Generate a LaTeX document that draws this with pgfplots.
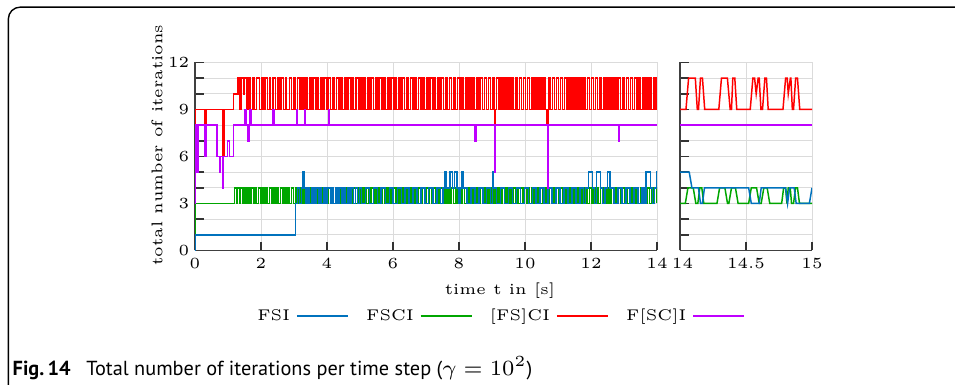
\documentclass[border=0pt]{standalone}
\usepackage{fontspec}
\usepackage{pgfplots}
\pgfplotsset{compat=1.18}
\newfontfamily\capfont{PT Sans}
\definecolor{cB}{RGB}{0,114,189}
\definecolor{cG}{RGB}{0,166,0}
\definecolor{cR}{RGB}{255,0,0}
\definecolor{cP}{RGB}{191,0,255}
\pgfplotsset{
  myaxis/.style={
    scale only axis, height=60.65pt,
    ymin=0, ymax=12,
    axis on top=false,
    axis lines=left,
    axis line style={-, black!75, line width=0.5pt},
    ytick={0,1,...,12},
    yticklabels={0,,,3,,,6,,,9,,,12},
    grid=major,
    major grid style={gray!28, line width=0.3pt},
    tick align=inside,
    major tick style={black!80, line width=0.5pt},
    major tick length=2.8pt,
    font=\fontsize{5}{6}\selectfont,
    every tick label/.append style={font=\fontsize{5}{6}\selectfont},
    xticklabel style={yshift=-0.6pt},
  },
  pl/.style={line width=0.48pt},
}
\begin{document}
\fontsize{5}{6}\selectfont
\begin{tikzpicture}
\useasboundingbox (0,0) rectangle (308.08pt,-123.88pt);
\draw[line width=0.45pt, rounded corners=3.8pt] (2.7pt,-2.3pt) rectangle (330pt,-140pt);
% left axis
\begin{axis}[myaxis, at={(62.91pt,-80.80pt)}, anchor=south west,
  width=149.04pt, xmin=0, xmax=14, xtick={0,2,...,14},
  xticklabels={0,2,4,6,8,10,12,14\hspace{1.6pt}},
  legend plot pos=right,
  legend style={at={(axis description cs:0.656,-0.349)}, anchor=center, draw=none, fill=none,
    legend columns=4, font=\fontsize{5}{6}\selectfont,
    /tikz/every even column/.append style={column sep=3.6pt},
    inner sep=0pt},
  legend image code/.code={\draw[#1] (0pt,0pt) -- (16.5pt,0pt);},
]
% FSCI (green)
\addplot[cG, pl, const plot, forget plot] coordinates {
(0,0)(0.01,3)(1.20,4)(1.25,3)(1.29,4)(1.35,3)(1.38,4)(1.45,3)(1.50,4)(1.54,3)(1.60,4)(1.66,3)(1.70,4)(1.77,3)(1.82,4)(1.86,3)(1.92,4)(1.99,3)(2.03,4)(2.09,3)(2.15,4)(2.19,3)(2.26,4)(2.32,3)(2.37,4)(2.43,3)(2.48,4)(2.53,3)(2.59,4)(2.66,3)(2.70,4)(2.76,3)(2.82,4)(2.87,3)(2.92,4)(2.99,3)
(3.04,4)(3.09,3)(3.15,4)(3.21,3)(3.26,4)(3.31,3)(3.37,4)(3.44,3)(3.48,4)(3.54,3)(3.60,4)(3.64,3)(3.71,4)(3.77,3)(3.81,4)(3.87,3)(3.93,4)(3.98,3)(4.03,4)(4.10,3)(4.14,4)(4.20,3)(4.26,4)(4.30,3)(4.36,4)(4.43,3)(4.47,4)(4.53,3)(4.59,4)(4.64,3)(4.69,4)(4.76,3)(4.80,4)(4.86,3)(4.92,4)(4.97,3)
(5.02,4)(5.09,3)(5.13,4)(5.19,3)(5.25,4)(5.30,3)(5.35,4)(5.42,3)(5.46,4)(5.52,3)(5.58,4)(5.63,3)(5.68,4)(5.75,3)(5.79,4)(5.85,3)(5.91,4)(5.96,3)(6.01,4)(6.08,3)(6.12,4)(6.18,3)(6.24,4)(6.29,3)(6.34,4)(6.41,3)(6.45,4)(6.51,3)(6.57,4)(6.62,3)(6.67,4)(6.74,3)(6.78,4)(6.84,3)(6.90,4)(6.95,3)
(7.00,4)(7.07,3)(7.11,4)(7.17,3)(7.23,4)(7.28,3)(7.33,4)(7.40,3)(7.44,4)(7.50,3)(7.56,4)(7.61,3)(7.66,4)(7.73,3)(7.77,4)(7.83,3)(7.89,4)(7.94,3)(7.99,4)(8.06,3)(8.10,4)(8.16,3)(8.22,4)(8.27,3)(8.32,4)(8.39,3)(8.43,4)(8.49,3)(8.55,4)(8.60,3)(8.65,4)(8.72,3)(8.76,4)(8.82,3)(8.88,4)(8.93,3)(8.98,4)
(9.05,3)(9.09,4)(9.15,3)(9.21,4)(9.26,3)(9.31,4)(9.38,3)(9.42,4)(9.48,3)(9.54,4)(9.59,3)(9.64,4)(9.71,3)(9.75,4)(9.81,3)(9.87,4)(9.92,3)(9.97,4)(10.04,3)(10.08,4)(10.14,3)(10.20,4)(10.25,3)(10.30,4)(10.37,3)(10.41,4)(10.47,3)(10.53,4)(10.58,3)(10.63,4)(10.70,3)(10.74,4)(10.80,3)(10.86,4)(10.91,3)(10.96,4)
(11.03,3)(11.07,4)(11.13,3)(11.19,4)(11.24,3)(11.29,4)(11.36,3)(11.40,4)(11.46,3)(11.52,4)(11.57,3)(11.62,4)(11.69,3)(11.73,4)(11.79,3)(11.85,4)(11.90,3)(11.95,4)(12.02,3)(12.06,4)(12.12,3)(12.18,4)(12.23,3)(12.28,4)(12.35,3)(12.39,4)(12.45,3)(12.51,4)(12.56,3)(12.61,4)(12.68,3)(12.72,4)(12.78,3)(12.84,4)(12.89,3)(12.94,4)
(13.01,3)(13.05,4)(13.11,3)(13.17,4)(13.22,3)(13.27,4)(13.34,3)(13.38,4)(13.44,3)(13.50,4)(13.55,3)(13.60,4)(13.67,3)(13.71,4)(13.77,3)(13.83,4)(13.88,3)(13.93,4)(14.00,3)};
% FSI (blue)
\addplot[cB, pl, const plot, forget plot] coordinates {
(0,0)(0.01,1)(3.04,3)(3.10,4)(3.16,3)(3.22,4)(3.27,5)(3.30,4)(3.36,3)(3.42,4)(3.47,3)(3.55,4)(3.60,3)(3.66,4)(3.74,3)(3.79,4)(3.83,3)(3.91,4)(3.97,3)(4.02,4)(4.10,3)(4.15,4)(4.20,3)(4.27,4)(4.33,3)(4.38,4)(4.45,3)(4.51,4)(4.56,3)(4.63,4)(4.69,3)(4.74,4)(4.81,3)(4.87,4)(4.92,3)(4.99,4)
(5.05,3)(5.17,4)(5.28,3)(5.41,4)(5.53,3)(5.64,4)(5.77,3)(5.89,4)(6.00,3)(6.13,4)(6.25,3)(6.36,4)(6.49,3)(6.61,4)(6.72,3)(6.85,4)(6.97,3)
(7.08,4)(7.21,3)(7.33,4)(7.44,3)(7.51,4)(7.58,5)(7.62,4)(7.73,5)(7.80,4)(7.87,5)(7.94,4)(8.00,3)(8.05,4)(8.08,5)(8.12,4)(8.24,3)(8.36,4)(8.48,3)(8.60,4)(8.72,3)(8.84,4)(8.96,3)
(9.01,5)(9.03,4)(9.14,3)(9.26,4)(9.38,3)(9.50,4)(9.62,3)(9.74,4)(9.86,3)(9.98,4)(10.10,3)(10.22,4)(10.34,3)(10.46,4)(10.58,3)(10.70,4)(10.82,3)(10.94,4)
(11.06,3)(11.18,4)(11.30,3)(11.42,4)(11.54,3)(11.66,4)(11.78,3)(11.84,4)(11.92,5)(12.04,4)(12.10,3)(12.17,5)(12.29,4)(12.35,3)(12.42,4)(12.50,5)(12.58,4)(12.70,3)(12.82,4)(12.94,3)
(13.06,4)(13.18,3)(13.30,4)(13.42,3)(13.54,4)(13.60,3)(13.66,5)(13.81,4)(13.87,3)(13.93,4)(13.99,5)(14.00,5)};
% [FS]CI (red)
\addplot[cR, pl, const plot, forget plot] coordinates {
(0,8)(0.02,9)(0.31,6)(0.34,9)(0.85,6)(0.88,9)(1.16,10)(1.30,11)(1.36,9)(1.40,11)(1.47,10)(1.50,11)(1.58,9)(1.62,11)(1.66,9)(1.75,11)(1.80,9)(1.86,11)(1.95,9)(2.02,11)(2.06,9)(2.12,11)(2.20,9)(2.25,11)(2.29,9)(2.36,11)(2.44,9)(2.50,11)(2.55,9)(2.60,11)(2.68,9)(2.74,11)(2.78,9)(2.86,11)(2.93,9)(2.98,11)
(3.03,9)(3.10,11)(3.18,9)(3.22,11)(3.27,9)(3.34,11)(3.40,9)(3.47,11)(3.52,9)(3.57,11)(3.65,9)(3.70,11)(3.74,9)(3.82,11)(3.88,9)(3.93,11)(4.00,9)(4.05,11)(4.10,9)(4.18,11)(4.22,9)(4.28,11)(4.36,9)(4.41,11)(4.46,9)(4.53,11)(4.58,9)(4.64,11)(4.72,9)(4.77,11)(4.81,9)(4.88,11)(4.95,9)
(5.00,11)(5.06,9)(5.12,11)(5.17,9)(5.24,11)(5.30,9)(5.35,11)(5.41,9)(5.48,11)(5.53,9)(5.58,11)(5.66,9)(5.71,11)(5.76,9)(5.83,11)(5.88,9)(5.94,11)(6.01,9)(6.06,11)(6.11,9)(6.18,11)(6.24,9)(6.29,11)(6.35,9)(6.42,11)(6.47,9)(6.53,11)(6.60,9)(6.65,11)(6.70,9)(6.77,11)(6.83,9)(6.88,11)(6.94,9)
(7.01,11)(7.06,9)(7.12,11)(7.19,9)(7.24,11)(7.29,9)(7.36,11)(7.42,9)(7.47,11)(7.53,9)(7.60,11)(7.65,9)(7.71,11)(7.78,9)(7.83,11)(7.88,9)(7.95,11)(8.01,9)(8.06,11)(8.12,9)(8.19,11)(8.24,9)(8.30,11)(8.37,9)(8.42,11)(8.47,9)(8.54,11)(8.60,9)(8.65,11)(8.71,9)(8.78,11)(8.83,9)(8.89,11)(8.96,9)
(9.01,11)(9.06,9)(9.08,8)(9.10,9)(9.13,11)(9.19,9)(9.24,11)(9.30,9)(9.37,11)(9.42,9)(9.48,11)(9.55,9)(9.60,11)(9.65,9)(9.72,11)(9.78,9)(9.83,11)(9.89,9)(9.96,11)(10.01,9)(10.07,11)(10.14,9)(10.19,11)(10.24,9)(10.31,11)(10.37,9)(10.42,11)(10.48,9)(10.55,11)(10.60,9)(10.67,8)(10.69,9)(10.73,11)(10.78,9)(10.84,11)(10.90,9)(10.96,11)
(11.02,9)(11.07,11)(11.13,9)(11.20,11)(11.25,9)(11.31,11)(11.37,9)(11.43,11)(11.48,9)(11.55,11)(11.61,9)(11.66,11)(11.72,9)(11.79,11)(11.84,9)(11.90,11)(11.96,9)(12.02,11)(12.07,9)(12.14,11)(12.20,9)(12.25,11)(12.31,9)(12.38,11)(12.43,9)(12.49,11)(12.55,9)(12.61,11)(12.66,9)(12.73,11)(12.79,9)(12.84,11)(12.90,9)(12.97,11)
(13.02,9)(13.08,11)(13.14,9)(13.20,11)(13.25,9)(13.32,11)(13.38,9)(13.43,11)(13.49,9)(13.56,11)(13.61,9)(13.67,11)(13.73,9)(13.79,11)(13.84,9)(13.91,11)(13.97,9)(14.00,9)};
% F[SC]I (purple)
\addplot[cP, pl, const plot, forget plot] coordinates {
(0,3)(0.02,8)(0.06,5)(0.10,8)(0.30,6)(0.33,8)(0.66,6)(0.74,5)(0.76,6)(0.84,4)(0.87,6)(0.98,7)(1.04,6)(1.16,8)(1.51,9)(1.56,8)(1.61,7)(1.64,8)(1.67,9)(1.70,8)(2.36,9)(2.39,8)(3.08,9)(3.11,8)(3.32,9)(3.35,8)(4.05,9)(4.08,8)(8.48,7)(8.51,8)(9.08,5)(9.11,8)(10.68,4)(10.71,8)(12.84,7)(12.87,8)(14,8)};
\addlegendimage{cB, pl}\addlegendentry{FSI}
\addlegendimage{cG, pl}\addlegendentry{FSCI}
\addlegendimage{cR, pl}\addlegendentry{[FS]CI}
\addlegendimage{cP, pl}\addlegendentry{F[SC]I}
\end{axis}
% right axis
\begin{axis}[myaxis, at={(219.37pt,-80.80pt)}, anchor=south west,
  width=42.58pt, xmin=14, xmax=15, xtick={14,14.5,15}, xticklabels={\hspace{1.6pt}14,14.5,15},
  yticklabels={},
]
\addplot[cG, pl] coordinates {(14,3)(14.04,3)(14.06,4)(14.10,4)(14.12,3)(14.135,3)(14.15,4)(14.165,4)(14.18,3)(14.28,3)(14.30,4)(14.34,4)(14.36,3)(14.37,3)(14.39,4)(14.42,4)(14.44,3)(14.52,3)(14.54,4)(14.58,4)(14.60,3)(14.615,3)(14.635,4)(14.66,4)(14.68,3)(14.77,3)(14.785,4)(14.80,4)(14.81,3)(14.82,4)(14.835,4)(14.845,3)(14.86,3)(14.875,4)(14.89,4)(14.905,3)(15,3)};
\addplot[cB, pl] coordinates {(14,5)(14.07,5)(14.09,4)(14.14,4)(14.155,3)(14.17,3)(14.185,4)(14.52,4)(14.54,3)(14.60,3)(14.615,4)(14.80,4)(14.815,3)(14.83,4)(14.865,4)(14.88,3)(14.98,3)(15,4)};
\addplot[cR, pl] coordinates {(14,9)(14.045,9)(14.065,11)(14.116,11)(14.131,9)(14.14,9)(14.155,11)(14.17,11)(14.187,9)(14.294,9)(14.314,11)(14.359,11)(14.38,9)(14.39,9)(14.40,11)(14.415,11)(14.43,9)(14.532,9)(14.552,11)(14.565,11)(14.577,10)(14.592,11)(14.60,11)(14.613,9)(14.625,9)(14.643,11)(14.655,11)(14.668,9)(14.78,9)(14.80,11)(14.812,11)(14.82,10)(14.836,11)(14.84,11)(14.851,9)(14.86,9)(14.876,11)(14.89,11)(14.907,9)(15,9)};
\addplot[cP, pl] coordinates {(14,8)(15,8)};
\end{axis}
\node[rotate=90, font=\fontsize{5}{6}\selectfont] at (50.65pt,-46.78pt) {total number of iterations};
\node[font=\fontsize{5}{6}\selectfont] at (161.3pt,-93.88pt) {time t in [s]};
\node[anchor=west, inner sep=0pt, font=\capfont\fontsize{6.55}{7.5}\selectfont] at (3.9pt,-118.7pt) {\textbf{Fig.\,14}\hspace{0.5em} Total number of iterations per time step ($\gamma = 10^{2}$)};
\end{tikzpicture}
\end{document}
